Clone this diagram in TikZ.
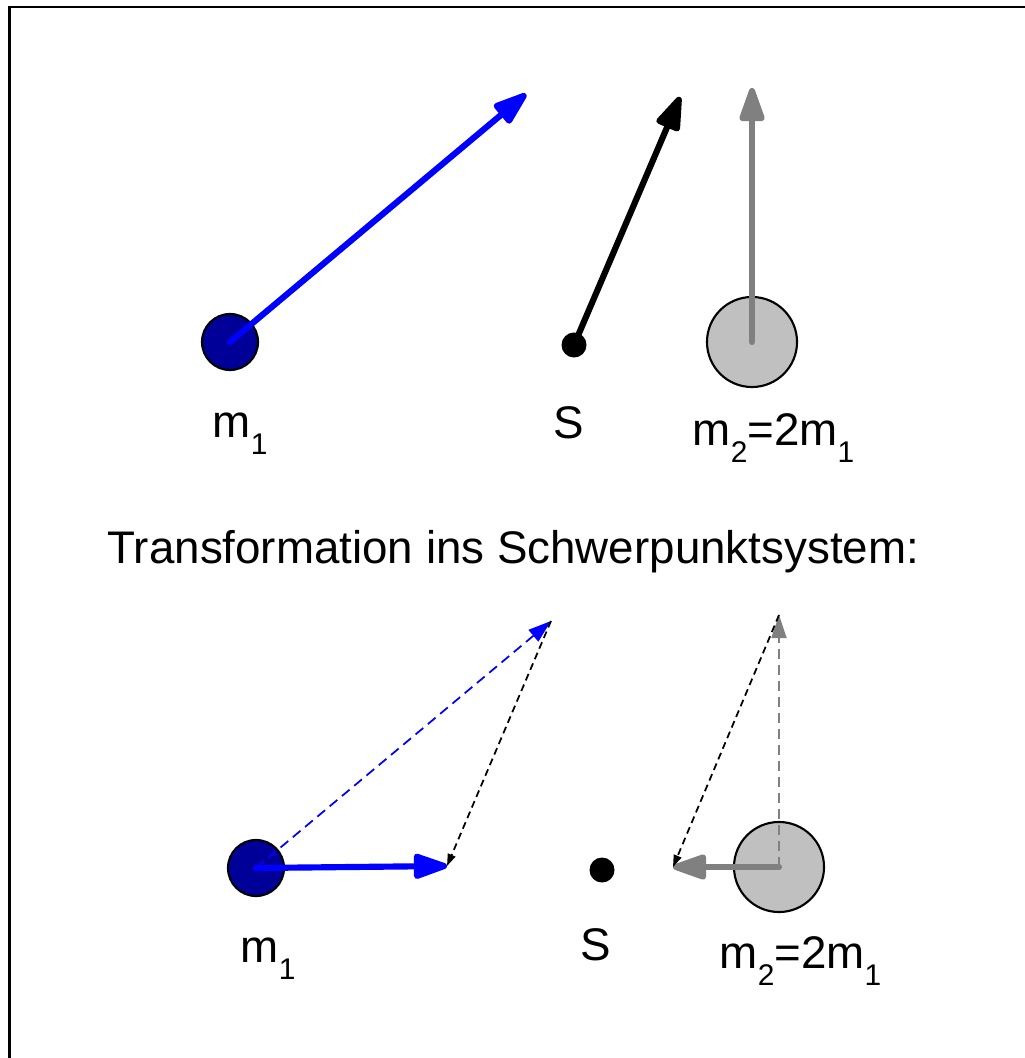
\documentclass[tikz,border=0pt]{standalone}
\usepackage{fontspec}
\setmainfont{Liberation Sans}
\usetikzlibrary{arrows.meta}
\definecolor{mdblue}{RGB}{0,0,153}
\definecolor{mblue}{RGB}{0,0,255}
\definecolor{mgray}{RGB}{128,128,128}
\definecolor{mlgray}{RGB}{192,192,192}
\newcommand{\sbx}[1]{\raisebox{-0.17cm}{\fontsize{8.5pt}{9pt}\selectfont #1}}
\begin{document}
\begin{tikzpicture}[x=0.01cm,y=-0.01cm,
  lbl/.style={anchor=base west,inner sep=0pt,font=\fontsize{13pt}{15pt}\selectfont},
  massA/.style={circle,draw=black,line width=0.6pt,fill=mdblue,minimum size=0.56cm,inner sep=0pt},
  massB/.style={circle,draw=black,line width=0.6pt,fill=mlgray,minimum size=0.90cm,inner sep=0pt},
  sdot/.style={circle,fill=black,minimum size=0.25cm,inner sep=0pt},
  vec/.style={line width=1.75pt,line cap=round,-{Triangle[length=0.40cm,width=0.26cm,round]}},
  dvec/.style={line width=0.5pt,dash pattern=on 0.1cm off 0.06cm,-{Triangle[length=0.23cm,width=0.15cm]}},
  bvec/.style={black,line width=0.5pt,dash pattern=on 0.07cm off 0.045cm,-{Triangle[length=0.12cm,width=0.08cm]}}
]
\useasboundingbox (0,0) rectangle (1025,1058);
% frame
\draw[line width=0.65pt] (9.5,1058) -- (9.5,7) -- (1025,7);

% ---- top ----
\node[massA] (m1t) at (230,342) {};
\node[sdot] (St) at (574,345) {};
\node[massB] (m2t) at (752,342) {};
\coordinate (v1t) at (526,94);
\coordinate (vSt) at (680,97);
\coordinate (v2t) at (752,88);
\draw[vec,mblue] (m1t.center) -- (v1t);
\draw[vec,black] (St.center) -- (vSt);
\draw[vec,mgray] (m2t.center) -- (v2t);

\node[lbl] (l1t) at (212,437) {m\sbx{1}};
\node[lbl] (lSt) at (553,438) {S};
\node[lbl] (l2t) at (692,445) {m\sbx{2}=2m\sbx{1}};

\node[lbl] (title) at (107,563) {Transformation ins Schwerpunktsystem:};

% ---- bottom ----
\node[massA] (m1b) at (256,868) {};
\node[sdot] (Sb) at (602,870) {};
\node[massB] (m2b) at (779,867) {};
\coordinate (v1b) at (551,621);
\coordinate (v1p) at (447,866);
\coordinate (v2b) at (779,615);
\coordinate (v2p) at (673,867);
\draw[dvec,mblue] (m1b.center) -- (v1b);
\draw[dvec,mgray] (m2b.center) -- (v2b);
\draw[vec,mblue] (m1b.center) -- (v1p);
\draw[vec,mgray] (m2b.center) -- (v2p);
\draw[bvec] (v1b) -- (v1p);
\draw[bvec] (v2b) -- (v2p);

\node[lbl] (l1b) at (240,962) {m\sbx{1}};
\node[lbl] (lSb) at (580,960) {S};
\node[lbl] (l2b) at (719,968) {m\sbx{2}=2m\sbx{1}};
\end{tikzpicture}
\end{document}
